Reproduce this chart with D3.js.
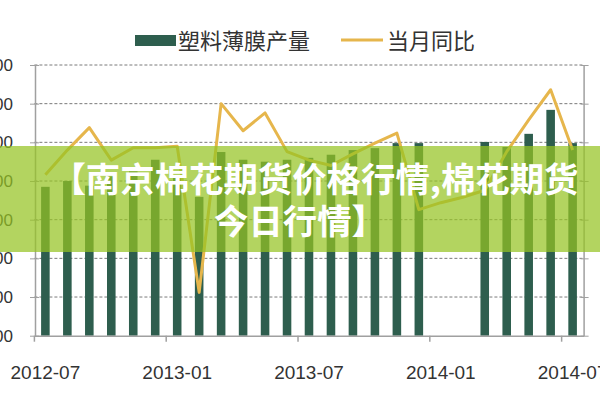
<!DOCTYPE html>
<html><head><meta charset="utf-8">
<script src="https://cdn.jsdelivr.net/npm/d3@7"></script>
<style>html,body{margin:0;padding:0;background:#fff;}svg{display:block;}</style>
</head><body>
<svg id="c" width="600" height="400"></svg>
<script>
const months = ["2012-07","2012-08","2012-09","2012-10","2012-11","2012-12","2013-01","2013-02","2013-03","2013-04","2013-05","2013-06","2013-07","2013-08","2013-09","2013-10","2013-11","2013-12","2014-01","2014-02","2014-03","2014-04","2014-05","2014-06","2014-07"];
const tickMonths = ["2012-07","2013-01","2013-07","2014-01","2014-07"];
// 塑料薄膜产量 (left axis)
const output = [885,900,888,912,925,955,915,859,975,955,950,955,960,968,980,985,998,998,null,null,1001,988,1022,1084,998];
// 当月同比 (right axis, %)
const yoy = [0.8,4.0,6.9,2.7,4.3,4.3,4.5,-14.4,10.0,6.5,8.8,3.8,2.7,2.0,3.5,4.9,6.2,-3.7,-2.8,-2.1,-1.2,3.8,7.9,11.8,4.0];
const leftTicks = [500,600,700,800,900,1000,1100,1200];
const rightTicks = [-20,-15,-10,-5,0,5,10,15];
const legendNames = ["塑料薄膜产量","当月同比"];
const bannerLines = ["【南京棉花期货价格行情,棉花期货","今日行情】"];

const svg = d3.select("#c");
const L = 34.4, R = 583.6, T = 65, B = 335.7;
const x = d3.scaleBand().domain(months).range([L, R]).padding(0);
const yL = d3.scaleLinear().domain([500,1200]).range([B, T]);
const yR = d3.scaleLinear().domain([-20,15]).range([B, T]);
const barColor = "#2e5e4e", lineColor = "#e6b64c";

// gridlines
svg.append("g").selectAll("line").data(leftTicks.slice(1)).join("line")
  .attr("x1", L).attr("x2", R).attr("y1", d=>yL(d)).attr("y2", d=>yL(d))
  .attr("stroke", "#7a7a7a").attr("stroke-width", 1).attr("stroke-dasharray", "3,2");

// bars
const bw = x.bandwidth()*0.39;
svg.append("g").selectAll("rect").data(months.map((m,i)=>({m, v: output[i]})).filter(d=>d.v!=null)).join("rect")
  .attr("x", d=>x(d.m)+x.bandwidth()/2-bw/2).attr("width", bw)
  .attr("y", d=>yL(d.v)).attr("height", d=>B-yL(d.v)).attr("fill", barColor);

// line
const line = d3.line().x((d,i)=>x(months[i])+x.bandwidth()/2).y(d=>yR(d)).defined(d=>d!=null);
svg.append("path").datum(yoy).attr("d", line).attr("fill","none")
  .attr("stroke", lineColor).attr("stroke-width", 3).attr("stroke-linejoin","round");

// left axis
const axL = svg.append("g").attr("transform", `translate(${L+0.6},0)`)
  .call(d3.axisLeft(yL).tickValues(leftTicks).tickSize(5).tickPadding(17).tickSizeOuter(0));
axL.select(".domain").attr("stroke","#a0a0a0").attr("stroke-width",1.5);
axL.selectAll(".tick line").attr("stroke","#a0a0a0").attr("x2",-5).attr("x1",4);
axL.selectAll("text").attr("font-family","Liberation Sans, Arial, sans-serif").attr("font-size",17).attr("fill","#333");

// right axis
const axR = svg.append("g").attr("transform", `translate(${R},0)`)
  .call(d3.axisRight(yR).tickValues(rightTicks).tickSize(5).tickFormat("").tickSizeOuter(0));
axR.select(".domain").attr("stroke","#a0a0a0").attr("stroke-width",1.5);
axR.selectAll(".tick line").attr("stroke","#a0a0a0").attr("x1",-3);

// bottom axis
const axB = svg.append("g").attr("transform", `translate(0,${B})`)
  .call(d3.axisBottom(x).tickValues(tickMonths).tickSize(0).tickPadding(30).tickSizeOuter(0));
axB.select(".domain").attr("stroke","#a0a0a0").attr("stroke-width",1.5);
axB.selectAll("text").attr("font-family","Liberation Sans, Arial, sans-serif").attr("font-size",19).attr("fill","#333");
svg.append("g").selectAll("line").data(tickMonths).join("line")
  .attr("x1", d=>x(d)).attr("x2", d=>x(d)).attr("y1", B).attr("y2", B+6)
  .attr("stroke","#a0a0a0").attr("stroke-width",1.5);

// legend
const lg = svg.append("g");
lg.append("rect").attr("x",135).attr("y",35).attr("width",41).attr("height",11).attr("fill",barColor);
lg.append("text").attr("x",178).attr("y",49).text(legendNames[0])
  .attr("font-family","Noto Sans CJK SC").attr("font-size",22).attr("fill","#333");
lg.append("line").attr("x1",341).attr("x2",383).attr("y1",40).attr("y2",40).attr("stroke",lineColor).attr("stroke-width",3);
lg.append("text").attr("x",387).attr("y",49).text(legendNames[1])
  .attr("font-family","Noto Sans CJK SC").attr("font-size",22).attr("fill","#333");

// banner overlay
svg.append("rect").attr("x",0).attr("y",146).attr("width",600).attr("height",106)
  .attr("fill","rgb(150,196,34)").attr("fill-opacity",0.72);
svg.append("g").selectAll("text").data(bannerLines).join("text")
  .attr("x", (d,i)=> i===0 ? 315 : 300).attr("y", (d,i)=> i===0 ? 192 : 234)
  .attr("text-anchor","middle").text(d=>d)
  .attr("font-family","Noto Sans CJK SC").attr("font-weight","bold").attr("font-size",34.4).attr("fill","#fff");
</script>
</body></html>
